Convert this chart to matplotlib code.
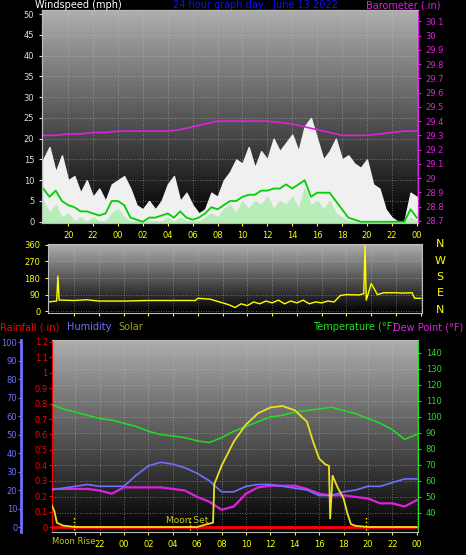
import matplotlib
matplotlib.use('Agg')
import matplotlib.pyplot as plt
import numpy as np

# half-hourly from 18:00 (day before) to 00:00 (next day), hours 18..48
t_half = [18 + 0.5 * i for i in range(61)]
gust = [15, 18, 12, 16, 10, 11, 7, 10, 6, 8, 5, 9, 10, 11, 8, 4, 3, 5, 3, 5, 9, 11, 5, 7, 4, 2,
        3, 7, 6, 10, 12, 15, 14, 18, 13, 17, 15, 20, 17, 19, 21, 17, 23, 25, 20, 15, 17, 20, 15, 16,
        14, 13, 15, 9, 8, 3, 1, 0, 0, 7, 6]
avg = [8, 6, 7.5, 5, 4, 3.5, 2.5, 2.5, 2, 1.5, 2, 5, 5, 4, 1, 0.5, 0, 1, 1, 1.5, 2, 1, 2.5, 1, 0.5,
       1, 2, 3.5, 3, 4, 5, 5, 6, 6.5, 6.5, 7.5, 7.5, 8, 8, 9, 8, 9, 10, 6, 7, 7, 7, 5, 3, 1, 0.5, 0,
       0, 0, 0, 0, 0, 0, 0, 3, 1]
lull = [5, 2, 4, 1, 2, 0, 1, 0, 1, 0, 0, 2, 3, 1, 0, 0, 0, 0, 0, 0, 1, 0, 1, 0, 0, 0, 1, 2, 1, 3,
        4, 2, 5, 3, 5, 4, 6, 3, 5, 4, 6, 3, 8, 4, 5, 3, 5, 2, 1, 0, 0, 0, 0, 0, 0, 0, 0, 0, 0, 1, 0]

t_hour = list(range(18, 49))
baro = [29.30, 29.30, 29.31, 29.31, 29.32, 29.32, 29.33, 29.33, 29.33, 29.33, 29.33, 29.34, 29.36,
        29.38, 29.40, 29.40, 29.40, 29.40, 29.40, 29.39, 29.38, 29.36, 29.34, 29.32, 29.30, 29.30,
        29.30, 29.31, 29.32, 29.33, 29.33]

t_dir = [17.9, 18.6, 18.7, 18.8, 19, 20, 21, 22, 24, 26, 28, 29.8, 30, 31, 32, 32.5, 33, 33.5, 34,
         34.5, 35, 35.5, 36, 36.5, 37, 37.5, 38, 38.5, 39, 39.5, 40, 40.5, 41, 41.5, 42, 43, 43.4, 43.5,
         43.6, 44, 44.5, 45, 46, 46.5, 47.3, 47.5, 48]
wdir = [50, 55, 190, 60, 60, 58, 62, 55, 55, 58, 58, 58, 70, 65, 45, 35, 20, 40, 30, 50, 40, 55, 45,
        60, 40, 55, 45, 60, 40, 50, 45, 55, 50, 85, 90, 88, 95, 360, 60, 150, 90, 100, 100, 98, 100,
        70, 70]

temp = [108, 105, 103, 101, 99, 98, 96, 94, 91, 89, 88, 87, 85, 84, 87, 91, 94, 97, 100, 101, 103,
        104, 105, 106, 104, 102, 99, 96, 92, 86, 89]
dew = [55, 55, 55, 55, 54, 52, 56, 56, 56, 56, 55, 54, 50, 47, 42, 44, 52, 56, 57, 57, 57, 55, 52,
       51, 51, 50, 49, 46, 46, 44, 48]
hum = [20, 21, 22, 23, 22, 22, 22, 28, 33, 35, 34, 32, 29, 25, 19, 19, 22, 23, 23, 22, 21, 20, 17,
       17, 19, 20, 22, 22, 24, 26, 26]
rain = [0] * 31

t_solar = [18.1, 18.3, 18.5, 19, 20, 25, 30, 30.8, 31.3, 31.4, 32, 33, 34, 35, 36, 37, 38, 39, 39.5,
           40, 40.5, 40.8, 40.9, 41.1, 41.2, 41.5, 42, 42.3, 42.6, 43, 44, 48]
solar = [150, 110, 30, 10, 0, 0, 0, 20, 30, 300, 430, 600, 720, 800, 840, 850, 820, 740, 600, 480,
         440, 430, 60, 360, 340, 280, 200, 100, 20, 8, 0, 0]

hour_labels = ['20', '22', '00', '02', '04', '06', '08', '10', '12', '14', '16', '18', '20', '22', '00']
hour_ticks = list(range(20, 49, 2))

W, H = 466, 555
fig = plt.figure(figsize=(W / 100, H / 100), dpi=100, facecolor='black')
plt.rcParams['font.family'] = 'DejaVu Sans'


def px_axes(l, t, r, b):
    return fig.add_axes([l / W, 1 - b / H, (r - l) / W, (b - t) / H])


def background(ax):
    grad = np.linspace(0.68, 0.0, 100).reshape(-1, 1)
    ax.imshow(grad, cmap='gray', vmin=0, vmax=1, aspect='auto',
              extent=[0, 1, 0, 1], transform=ax.transAxes, zorder=0)
    ax.set_facecolor('black')
    ax.grid(True, color='#c8c8c8', linestyle=(0, (1, 2)), linewidth=0.6, alpha=0.6)


def style(ax, xcol='yellow'):
    for s in ax.spines.values():
        s.set_color('#bbbbbb')
    ax.tick_params(labelsize=6, colors='#dddddd', length=2, direction='out')
    ax.tick_params(axis='x', colors=xcol)


# ---- wind panel ----
ax1 = px_axes(42, 10, 418, 223)
background(ax1)
ax1.fill_between(t_half, gust, color='#f0f0f0', zorder=2)
ax1.fill_between(t_half, lull, color='#b8ecb8', zorder=3)
ax1.plot(t_half, avg, color='#00d000', lw=1.3, zorder=4)
ax1.set_xlim(17.9, 48.1)
ax1.set_ylim(-0.3, 51)
ax1.set_yticks(range(0, 51, 5))
ax1.set_xticks(hour_ticks)
ax1.set_xticklabels(hour_labels)
style(ax1)
ax1b = ax1.twinx()
ax1b.plot(t_hour, baro, color='#e020e0', lw=1.2)
ax1b.set_ylim(28.685, 30.18)
baro_ticks = np.round(np.arange(28.7, 30.15, 0.1), 1)
ax1b.set_yticks(baro_ticks)
ax1b.set_yticklabels([f'{v:g}' for v in baro_ticks])
style(ax1b)
ax1b.tick_params(axis='y', colors='#e020e0')
ax1b.spines['right'].set_color('#e020e0')

fig.text(35 / W, 1 - 5 / H, 'Windspeed (mph)', color='white', fontsize=7, va='center')
fig.text(255 / W, 1 - 5 / H, '24 hour graph day : June 13 2022', color='#1010ff', fontsize=7,
         va='center', ha='center')
fig.text(440 / W, 1 - 5 / H, 'Barometer (.in)', color='#e020e0', fontsize=7, va='center', ha='right')

# ---- wind direction panel ----
ax2 = px_axes(48, 244, 422, 313)
background(ax2)
ax2.plot(t_dir, wdir, color='yellow', lw=1)
ax2.set_xlim(17.9, 48.1)
ax2.set_ylim(-10, 365)
ax2.set_yticks([0, 90, 180, 270, 360])
ax2.set_xticks(hour_ticks)
ax2.set_xticklabels([])
ax2.tick_params(axis='x', length=0)
style(ax2)
ax2.tick_params(axis='y', colors='yellow')
for i, c in enumerate('NWSEN'):
    fig.text(440 / W, 1 - (244 + i * 16.5) / H, c, color='yellow', fontsize=8, ha='center', va='center')

# ---- bottom panel ----
ax3 = px_axes(52, 340, 418, 532)
background(ax3)
ax3.set_xlim(18.1, 48.1)
ax3.set_ylim(28.1, 148)
ax3.plot(t_hour, temp, color='#20e020', lw=1.1, zorder=4)
ax3.plot(t_hour, dew, color='#e020e0', lw=1.6, zorder=4)
ax3.set_xticks(hour_ticks)
# first label is hidden under the "Moon Rise" caption
ax3.set_xticklabels([''] + hour_labels[1:])

axh = ax3.twinx()
axh.plot(t_hour, hum, color='#7070ff', lw=1.2, zorder=3)
axh.set_ylim(-2.7, 101.1)
axh.yaxis.tick_left()
axh.spines['left'].set_position(('outward', 22))
axh.spines['left'].set_color('#7070ff')
axh.spines['left'].set_linewidth(2)
axh.set_yticks(range(0, 101, 10))
axh.tick_params(axis='y', colors='#7070ff', labelsize=6, length=2, pad=1)
for s in ['top', 'right', 'bottom']:
    axh.spines[s].set_visible(False)

axr = ax3.twinx()
axr.plot(t_hour, rain, color='red', lw=2, zorder=5)
axr.set_ylim(-0.032, 1.212)
axr.yaxis.tick_left()
rain_ticks = np.round(np.arange(0, 1.21, 0.1), 1)
axr.set_yticks(rain_ticks)
axr.set_yticklabels([f'{v:g}' for v in rain_ticks])
axr.tick_params(axis='y', colors='red', labelsize=6, length=2, pad=1)
for s in axr.spines.values():
    s.set_visible(False)

axs = ax3.twinx()
axs.plot(t_solar, solar, color='#e8e020', lw=1.3)
axs.set_ylim(-35, 1314)
axs.set_yticks([])
for s in axs.spines.values():
    s.set_visible(False)
for mt in [19.9, 29.4, 43.8]:
    axs.axvline(mt, ymin=0.01, ymax=0.08, color='yellow', linestyle=':', lw=1)
axs.text(29.2, 30, 'Moon Set', color='#c8c820', fontsize=6.5, ha='center')
fig.text(52 / W, 1 - 541 / H, 'Moon Rise', color='#c8c820', fontsize=6, va='center')

# twinx resets tick side, so set temperature axis on the right afterwards
style(ax3)
ax3.yaxis.tick_right()
ax3.set_yticks(range(40, 141, 10))
ax3.tick_params(axis='y', colors='#20e020', labelsize=6, length=2)
ax3.spines['right'].set_color('#20e020')
ax3.spines['left'].set_color('red')
ax3.spines['left'].set_linestyle((0, (2, 1)))

fig.text(0, 1 - 327 / H, 'Rainfall (.in)', color='red', fontsize=7, va='center')
fig.text(67 / W, 1 - 327 / H, 'Humidity', color='#7070ff', fontsize=7, va='center')
fig.text(118 / W, 1 - 327 / H, 'Solar', color='#a0a020', fontsize=7, va='center')
fig.text(313 / W, 1 - 327 / H, 'Temperature (°F)', color='#20e020', fontsize=7, va='center')
fig.text(393 / W, 1 - 327 / H, 'Dew Point (°F)', color='#e020e0', fontsize=7, va='center')

fig.savefig('out.png', dpi=100, facecolor='black')
